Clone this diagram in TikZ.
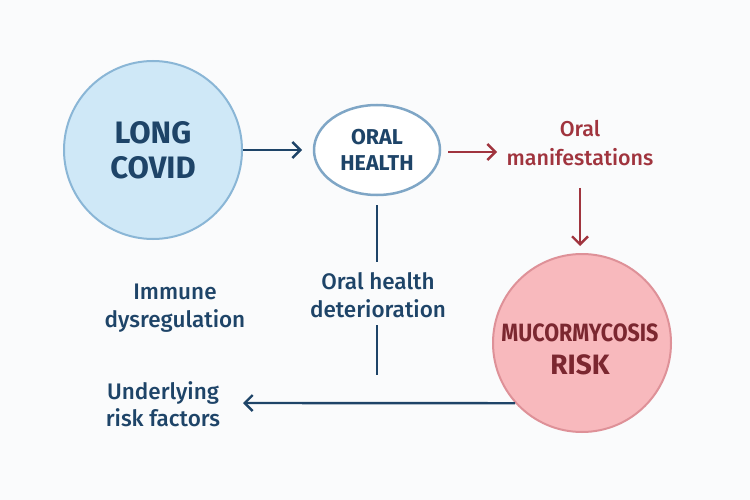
\documentclass[tikz,border=0pt]{standalone}
\usepackage{fontspec}
\setmainfont{Fira Sans}[UprightFont={* Medium},BoldFont={* Bold}]
\usetikzlibrary{arrows.meta,shapes.geometric}
\definecolor{navy}{HTML}{1E4468}
\definecolor{lbfill}{HTML}{CFE8F7}
\definecolor{lbdraw}{HTML}{8AB6D6}
\definecolor{ohdraw}{HTML}{7FA6C6}
\definecolor{redar}{HTML}{A0343E}
\definecolor{pkfill}{HTML}{F8B9BD}
\definecolor{pkdraw}{HTML}{DE9198}
\definecolor{dkred}{HTML}{7B2730}
\definecolor{bg}{HTML}{FAFBFC}
\tikzset{
  navyarrow/.style={draw=navy,line width=2.4pt,-{Straight Barb[length=8pt,width=16pt,line width=2.4pt]}},
  redarrow/.style={draw=redar,line width=2.4pt,-{Straight Barb[length=8pt,width=16pt,line width=2.4pt]}},
  navyline/.style={draw=navy,line width=2.4pt},
  lbl/.style={align=center,font=\fontsize{22.5}{27.5}\selectfont,text=navy,inner sep=0pt},
}
\begin{document}
\begin{tikzpicture}[x=1pt,y=-1pt]
\fill[bg] (0,0) rectangle (750,500);
\useasboundingbox (0,0) rectangle (750,500);
\node[circle,minimum size=178pt,fill=lbfill,draw=lbdraw,line width=2pt,inner sep=0pt,
  align=center,text=navy,font=\fontsize{31}{35}\selectfont\bfseries] (lc) at (153,150) {LONG\\COVID};
\node[ellipse,minimum width=126pt,minimum height=90pt,fill=white,draw=ohdraw,line width=2.5pt,inner sep=0pt,
  align=center,text=navy,font=\fontsize{21.5}{26}\selectfont\bfseries] (oh) at (377,150) {ORAL\\HEALTH};
\node[lbl,text=redar,font=\fontsize{21.5}{29}\selectfont] (om) at (580,143) {Oral\\manifestations};
\node[circle,minimum size=178pt,fill=pkfill,draw=pkdraw,line width=2pt,inner sep=0pt] (mr) at (582,343) {};
\node[align=center,text=dkred,font=\fontsize{25}{33}\selectfont\bfseries,inner sep=0pt] (mrt) at (580,349) {\scalebox{0.86}[1]{MUCORMYCOSIS}\\\fontsize{28}{33}\selectfont RISK};
\node[lbl] (ohd) at (378,295) {Oral health\\deterioration};
\node[lbl] (imm) at (175,308) {Immune\\dysregulation};
\node[lbl] (urf) at (163,404) {Underlying\\risk factors};
\coordinate (v1a) at (377,205);
\coordinate (v1b) at (377,262);
\coordinate (v2a) at (377,325);
\coordinate (v2b) at (377,375);
\coordinate (hl) at (243,403);
\draw[navyarrow] (lc.east) -- (302,150);
\draw[redarrow] (448,152) -- (497,152);
\draw[redarrow] (580,188) -- (580,246);
\draw[navyline] (v1a) -- (v1b);
\draw[navyline] (v2a) -- (v2b);
\draw[navyarrow] (mr.222.4) -- (hl);
\end{tikzpicture}
\end{document}
